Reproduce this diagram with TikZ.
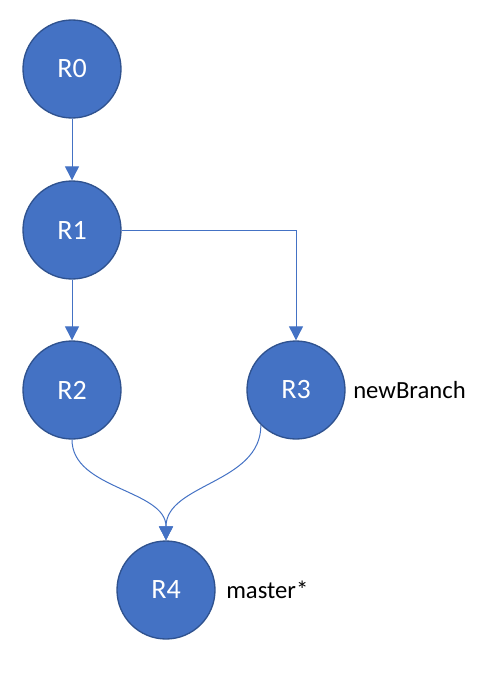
\documentclass[tikz,border=0pt]{standalone}
\usepackage{fontspec}
\setmainfont{Carlito}
\usetikzlibrary{arrows.meta}
\definecolor{fillblue}{HTML}{4472C4}
\definecolor{edgeblue}{HTML}{2F528F}
\begin{document}
\begin{tikzpicture}[x=0.75pt,y=-0.75pt,
  commit/.style={circle, fill=fillblue, draw=edgeblue, line width=1pt, minimum size=73.5pt, inner sep=0pt, text=white, font=\fontsize{21}{24}\selectfont},
  tag/.style={anchor=west, inner sep=0pt, font=\fontsize{18.5}{22}\selectfont},
  link/.style={draw=fillblue, line width=0.75pt, -{Triangle[width=10.5pt,length=10.5pt]}}]
\useasboundingbox (0,0) rectangle (483,693);
\node[commit] (R0) at (72,69) {R0};
\node[commit] (R1) at (72,230) {R1};
\node[commit] (R2) at (72,390) {R2};
\node[commit] (R3) at (296,390) {R3};
\node[commit] (R4) at (166,590) {R4};
\node[tag] (nb) at (353,390) {newBranch};
\node[tag] (ms) at (226,590) {master*};
\draw[link] (R0) -- (R1);
\draw[link] (R1) -- (R2);
\draw[link] (R1.east) -| (R3.north);
\draw[link] (R2.south) .. controls (72,489.5) and (166,489.5) .. (R4.north);
\draw[link] (R3.-135) .. controls (261,483.5) and (166,483.5) .. (R4.north);
\end{tikzpicture}
\end{document}
